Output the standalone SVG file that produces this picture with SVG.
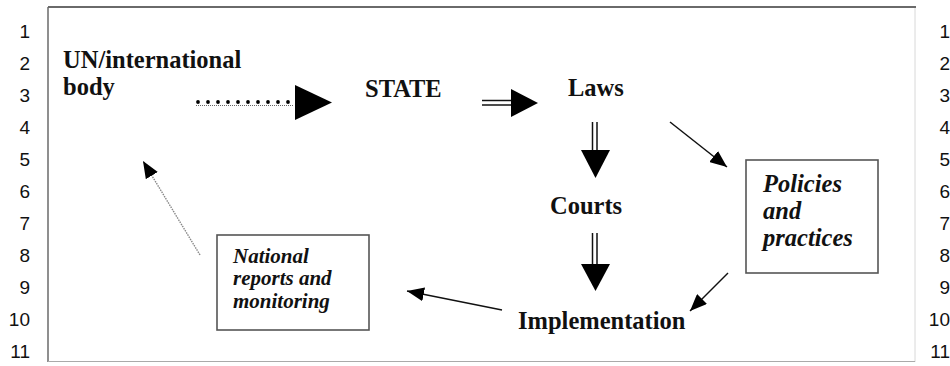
<svg xmlns="http://www.w3.org/2000/svg" width="950" height="366" viewBox="0 0 950 366">
<style>
.num{font-family:"Liberation Sans",Arial,sans-serif;font-size:19px;fill:#111;text-anchor:end}
.lbl{font-family:"Liberation Serif","Times New Roman",serif;font-weight:bold;font-size:24.5px;fill:#111}
.it{font-style:italic}
.sm{font-size:21px}
.box{fill:#fff;stroke:#555;stroke-width:1.6}
.thin{stroke:#111;stroke-width:1.5;fill:none}
.dbl{stroke:#111;stroke-width:1.5}
.head{fill:#000}
</style>
<defs>
<marker id="ah" markerUnits="userSpaceOnUse" markerWidth="17" markerHeight="14" refX="17" refY="7" orient="auto">
<path d="M0,0 L17,7 L0,14 z" fill="#000"/>
</marker>
</defs>
<rect x="0" y="0" width="950" height="366" fill="#fff"/>
<g id="frame">
<line x1="48" y1="7" x2="916" y2="7" stroke="#6a6a6a" stroke-width="2"/>
<line x1="48" y1="7" x2="48" y2="362" stroke="#6a6a6a" stroke-width="1.5"/>
<line x1="915" y1="8" x2="915" y2="362" stroke="#d8d8d8" stroke-width="1"/>
<line x1="48" y1="361.5" x2="915" y2="361.5" stroke="#aaa" stroke-width="1.2"/>
</g>
<g id="line-numbers-left">
<text class="num" x="30" y="38">1</text>
<text class="num" x="30" y="70">2</text>
<text class="num" x="30" y="102">3</text>
<text class="num" x="30" y="134">4</text>
<text class="num" x="30" y="166">5</text>
<text class="num" x="30" y="198">6</text>
<text class="num" x="30" y="230">7</text>
<text class="num" x="30" y="262">8</text>
<text class="num" x="30" y="294">9</text>
<text class="num" x="30" y="326">10</text>
<text class="num" x="30" y="358">11</text>
</g>
<g id="line-numbers-right">
<text class="num" x="950" y="38">1</text>
<text class="num" x="950" y="70">2</text>
<text class="num" x="950" y="102">3</text>
<text class="num" x="950" y="134">4</text>
<text class="num" x="950" y="166">5</text>
<text class="num" x="950" y="198">6</text>
<text class="num" x="950" y="230">7</text>
<text class="num" x="950" y="262">8</text>
<text class="num" x="950" y="294">9</text>
<text class="num" x="950" y="326">10</text>
<text class="num" x="950" y="358">11</text>
</g>
<g id="connectors">
<g id="un-to-state">
<line x1="196" y1="105.5" x2="294" y2="105.5" stroke="#666" stroke-width="1" stroke-dasharray="1 1"/>
<circle cx="198" cy="102" r="1.9"/><circle cx="208" cy="102" r="1.9"/><circle cx="218" cy="102" r="1.9"/><circle cx="228" cy="102" r="1.9"/><circle cx="238" cy="102" r="1.9"/><circle cx="248" cy="102" r="1.9"/><circle cx="258" cy="102" r="1.9"/><circle cx="268" cy="102" r="1.9"/><circle cx="278" cy="102" r="1.9"/><circle cx="288" cy="102" r="1.9"/>
<polygon class="head" points="295,85 332,102.5 295,120"/>
</g>
<g id="state-to-laws">
<line class="dbl" x1="482" y1="100.5" x2="513" y2="100.5"/>
<line class="dbl" x1="482" y1="105" x2="513" y2="105"/>
<polygon class="head" points="511,89 538,103 511,117"/>
</g>
<g id="laws-to-courts">
<line class="dbl" x1="592.5" y1="122" x2="592.5" y2="152"/>
<line class="dbl" x1="597" y1="122" x2="597" y2="152"/>
<polygon class="head" points="581,150 610,150 595.5,178"/>
</g>
<g id="courts-to-implementation">
<line class="dbl" x1="592.5" y1="233" x2="592.5" y2="266"/>
<line class="dbl" x1="597" y1="233" x2="597" y2="266"/>
<polygon class="head" points="581,264 610,264 595.5,291"/>
</g>
<line id="laws-to-policies" class="thin" x1="670" y1="122" x2="727" y2="167" marker-end="url(#ah)"/>
<line id="policies-to-implementation" class="thin" x1="728" y1="273" x2="690" y2="311" marker-end="url(#ah)"/>
<line id="implementation-to-national" class="thin" x1="502" y1="310" x2="407" y2="291" marker-end="url(#ah)"/>
<line id="national-to-un" x1="200" y1="255" x2="143" y2="161" stroke="#888" stroke-width="1.4" stroke-dasharray="1.5 1" marker-end="url(#ah)"/>
</g>
<g id="node-un">
<text class="lbl" x="63" y="68">UN/international</text>
<text class="lbl" x="63" y="95">body</text>
</g>
<g id="node-state"><text class="lbl" x="365" y="97">STATE</text></g>
<g id="node-laws"><text class="lbl" x="568" y="96">Laws</text></g>
<g id="node-courts"><text class="lbl" x="550" y="214">Courts</text></g>
<g id="node-implementation"><text class="lbl" x="518" y="329">Implementation</text></g>
<g id="node-policies">
<rect class="box" x="746" y="160" width="132" height="113"/>
<text class="lbl it" x="763" y="192">Policies</text>
<text class="lbl it" x="763" y="219">and</text>
<text class="lbl it" x="763" y="246">practices</text>
</g>
<g id="node-national">
<rect class="box" x="217" y="235" width="152" height="95"/>
<text class="lbl it sm" x="233" y="263">National</text>
<text class="lbl it sm" x="233" y="285">reports and</text>
<text class="lbl it sm" x="233" y="308">monitoring</text>
</g>
</svg>
